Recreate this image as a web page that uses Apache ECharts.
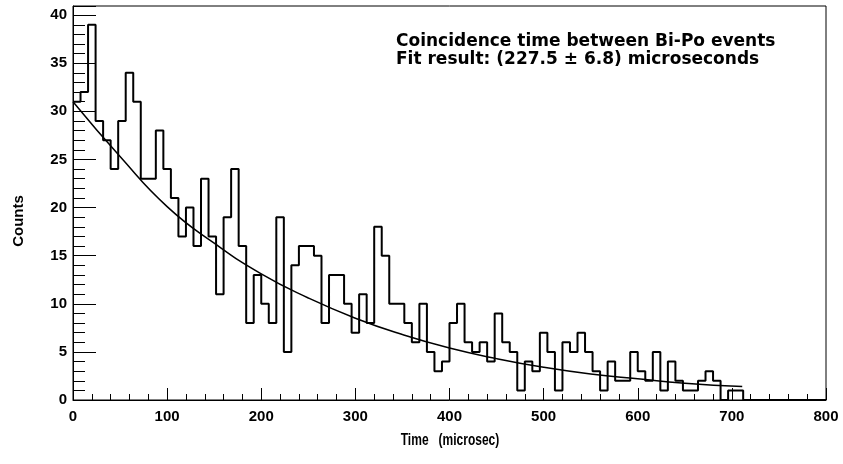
<!DOCTYPE html>
<html>
<head>
<meta charset="utf-8">
<script src="https://cdn.jsdelivr.net/npm/echarts@6/dist/echarts.min.js"></script>
<style>
html,body{margin:0;padding:0;background:#fff;}
#chart{width:843px;height:464px;}
</style>
</head>
<body>
<div id="chart"></div>
<script>
// Histogram: counts per 8-microsecond bin, starting at 0
const binWidth = 8;
const counts = [
  31,32,39,29,27,24,29,34,31,23,23,28,24,21,17,20,16,23,17,11,19,24,16,8,13,
  10,8,19,5,14,16,16,15,8,13,13,10,7,11,8,18,15,10,10,8,6,
  10,5,3,4,8,10,6,5,6,4,9,6,5,1,4,3,
  7,5,1,6,5,7,5,
  3,1,4,2,2,5,3,2,5,1,4,2,1,1,2,3,2,0,1,1,
  0,0,0,0,0,0,0,0,0,0,0
];
// Fit curve (time, counts)
const fitT = [0,50,100,150,200,250,300,350,400,450,500,550,600,650,711];
const fitV = [31.0,25.3,20.1,16.3,13.1,10.6,8.5,6.8,5.4,4.3,3.4,2.7,2.2,1.75,1.4];
const xTicks = [0,100,200,300,400,500,600,700,800];
const yTicks = [0,5,10,15,20,25,30,35,40];

const titleLine1 = 'Coincidence time between Bi-Po events';
const titleLine2 = 'Fit result: (227.5 \u00B1 6.8) microseconds';
const xName = 'Time   (microsec)';
const yName = 'Counts';

const histData = counts.map((v, i) => [i * binWidth, v]);
histData.push([counts.length * binWidth, 0]);
const fitData = fitT.map((t, i) => [t, fitV[i]]);

const chart = echarts.init(document.getElementById('chart'), null, {renderer: 'canvas'});
const labelFont = {fontFamily: 'Liberation Sans, Arial, sans-serif', fontWeight: 'bold', fontSize: 15, color: '#000'};
chart.setOption({
  animation: false,
  backgroundColor: '#fff',
  grid: {left: 73, right: 17, top: 6, bottom: 64, show: true, borderColor: '#000', borderWidth: 1, backgroundColor: 'transparent'},
  xAxis: {
    type: 'value', min: xTicks[0], max: xTicks[xTicks.length - 1], interval: 100,
    axisLine: {show: true, lineStyle: {color: '#000', width: 1}},
    axisTick: {show: true, inside: true, length: 12, lineStyle: {color: '#000'}},
    minorTick: {show: true, splitNumber: 5, length: 6, lineStyle: {color: '#000'}},
    splitLine: {show: false},
    axisLabel: Object.assign({margin: 9, formatter: v => xTicks.includes(v) ? String(v) : ''}, labelFont)
  },
  yAxis: {
    type: 'value', min: 0, max: 40.95, interval: 5,
    axisLine: {show: true, lineStyle: {color: '#000', width: 1}},
    axisTick: {show: true, inside: true, length: 23, lineStyle: {color: '#000'}},
    minorTick: {show: true, splitNumber: 5, length: 12, lineStyle: {color: '#000'}},
    splitLine: {show: false},
    axisLabel: Object.assign({margin: 6, formatter: v => yTicks.includes(v) ? String(v) : ''}, labelFont)
  },
  series: [
    {
      type: 'line', data: histData, step: 'end', symbol: 'none', clip: true,
      lineStyle: {color: '#000', width: 2}, z: 3
    },
    {
      type: 'line', data: fitData, smooth: true, symbol: 'none', clip: true,
      lineStyle: {color: '#000', width: 1.5}, z: 4
    }
  ],
  graphic: [
    {type: 'text', left: 396, top: 33, style: {text: titleLine1, font: 'bold 17px "DejaVu Sans"', fill: '#000'}},
    {type: 'text', left: 396, top: 51, style: {text: titleLine2, font: 'bold 17px "DejaVu Sans"', fill: '#000'}},
    {type: 'text', x: 450, y: 441, scaleX: 0.75, style: {text: xName, font: 'bold 16px "Liberation Sans"', fill: '#000', align: 'center', verticalAlign: 'middle'}},
    {type: 'text', x: 19, y: 221, rotation: Math.PI / 2, style: {text: yName, font: 'bold 15px "Liberation Sans"', fill: '#000', align: 'center', verticalAlign: 'middle'}}
  ]
});
</script>
</body>
</html>
